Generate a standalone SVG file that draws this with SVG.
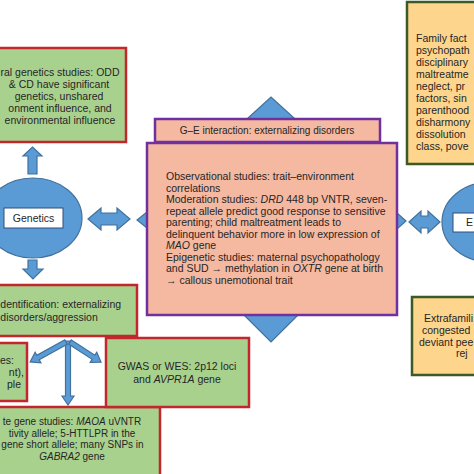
<svg xmlns="http://www.w3.org/2000/svg" width="474" height="474" viewBox="0 0 474 474">
<style>
text{font-family:"Liberation Sans",Arial,sans-serif;font-size:10.5px;fill:#262626}
.g{fill:#a9d18e;stroke:#c1272d;stroke-width:2.5}
.p{fill:#f5b8a0;stroke:#7030a0;stroke-width:2.5}
.y{fill:#fed58c;stroke:#3b5a26;stroke-width:2.5}
.b{fill:#5b9bd5;stroke:#41719c;stroke-width:1.2}
.lab{fill:#fff;stroke:#2f4f7a;stroke-width:1}
.m{text-anchor:middle}
.e{text-anchor:end}
.s{font-size:10px}
</style>
<rect width="474" height="474" fill="#fff"/>

<g id="connectors">
<polygon class="b" points="28,174 28,156 23,156 32.5,147 42,156 37,156 37,174"/>
<polygon class="b" points="28,260 37,260 37,269 43,269 33,279 23,269 28,269"/>
<polygon class="b" points="88,219 101,208 101,213 117,213 117,208 130,219 117,230 117,225 101,225 101,230"/>
<polygon class="b" points="409,222 421,211 421,216 428,216 428,211 440,222 428,233 428,228 421,228 421,233"/>
<polygon class="b" transform="translate(68,341) rotate(90)" points="0,-2.5 55,-2.5 55,-6 64,0 55,6 55,2.5 0,2.5"/>
<polygon class="b" transform="translate(66,342) rotate(151)" points="0,-2.5 32,-2.5 32,-6 41,0 32,6 32,2.5 0,2.5"/>
<polygon class="b" transform="translate(70,342) rotate(33)" points="0,-2.5 28,-2.5 28,-6 37,0 28,6 28,2.5 0,2.5"/>
</g>

<g id="node-behavioral">
<rect class="g" x="-3" y="48" width="129" height="94"/>
<text class="m" x="60" y="76">ral genetics studies: ODD</text>
<text class="m" x="59" y="88">&amp; CD have significant</text>
<text class="m" x="59" y="100">genetics, unshared</text>
<text class="m" x="60" y="112">onment influence, and</text>
<text class="m" x="60" y="124">environmental influence</text>
</g>

<g id="node-genetics">
<ellipse class="b" cx="33" cy="218" rx="49" ry="40"/>
<rect class="lab" x="4" y="208" width="59" height="20"/>
<text class="m" x="33.5" y="222">Genetics</text>
</g>

<g id="node-identification">
<rect class="g" x="-3" y="285" width="140" height="51"/>
<text x="0.3" y="308">dentification: externalizing</text>
<text x="0.3" y="321">disorders/aggression</text>
</g>

<g id="node-small">
<rect class="g" x="-3" y="343" width="30" height="58"/>
<text class="e" x="14" y="364">es:</text>
<text class="e" x="24" y="376">nt),</text>
<text class="e" x="21" y="388">ple</text>
</g>

<g id="node-candidate">
<rect class="g" x="-3" y="407" width="163" height="72"/>
<text class="m s" x="72" y="425">te gene studies: <tspan font-style="italic">MAOA</tspan> uVNTR</text>
<text class="m s" x="72" y="436.5">tivity allele; 5-HTTLPR in the</text>
<text class="m s" x="72.5" y="448">gene short allele; many SNPs in</text>
<text class="m s" x="72" y="459.5"><tspan font-style="italic">GABRA2</tspan> gene</text>
</g>

<g id="node-gwas">
<rect class="g" x="106" y="338" width="143" height="69"/>
<text class="m" x="177" y="370">GWAS or WES: 2p12 loci</text>
<text class="m" x="177" y="383">and <tspan font-style="italic">AVPR1A</tspan> gene</text>
</g>

<g id="node-ge">
<polygon class="b" points="247,119 271,97 295,119"/>
<polygon class="b" points="244,315 298,315 271,342"/>
<polygon class="b" points="147,212 137,220 147,228"/>
<polygon class="b" points="397,213 406,221 397,229"/>
<rect class="p" x="155" y="119" width="225" height="23"/>
<text class="m s" x="267" y="134">G–E interaction: externalizing disorders</text>
<rect class="p" x="147" y="143" width="250" height="172"/>
<text x="166" y="180">Observational studies: trait–environment</text>
<text x="166" y="191.5">correlations</text>
<text x="166" y="203">Moderation studies: <tspan font-style="italic">DRD</tspan> 448 bp VNTR, seven-</text>
<text x="166" y="214.5">repeat allele predict good response to sensitive</text>
<text x="166" y="226">parenting; child maltreatment leads to</text>
<text x="166" y="237.5">delinquent behavior more in low expression of</text>
<text x="166" y="249"><tspan font-style="italic">MAO</tspan> gene</text>
<text x="166" y="260.5">Epigenetic studies: maternal psychopathology</text>
<text x="166" y="272">and SUD → methylation in <tspan font-style="italic">OXTR</tspan> gene at birth</text>
<text x="166" y="283.5">→ callous unemotional trait</text>
</g>

<g id="node-family">
<rect class="y" x="407" y="2" width="70" height="162"/>
<text x="416" y="42">Family fact</text>
<text x="416" y="54">psychopath</text>
<text x="416" y="66">disciplinary</text>
<text x="416" y="78">maltreatme</text>
<text x="416" y="90">neglect, pr</text>
<text x="416" y="102">factors, sin</text>
<text x="416" y="114">parenthood</text>
<text x="416" y="126">disharmony</text>
<text x="416" y="138">dissolution</text>
<text x="416" y="150">class, pove</text>
</g>

<g id="node-environment">
<ellipse class="b" cx="490" cy="222" rx="48" ry="40"/>
<rect class="lab" x="453" y="213" width="30" height="19"/>
<text x="466" y="226">E</text>
</g>

<g id="node-extrafamilial">
<rect class="y" x="412" y="297" width="65" height="78"/>
<text x="424" y="322">Extrafamili</text>
<text x="422" y="334">congested</text>
<text x="419" y="345.5">deviant pee</text>
<text x="456" y="357">rej</text>
</g>
</svg>
